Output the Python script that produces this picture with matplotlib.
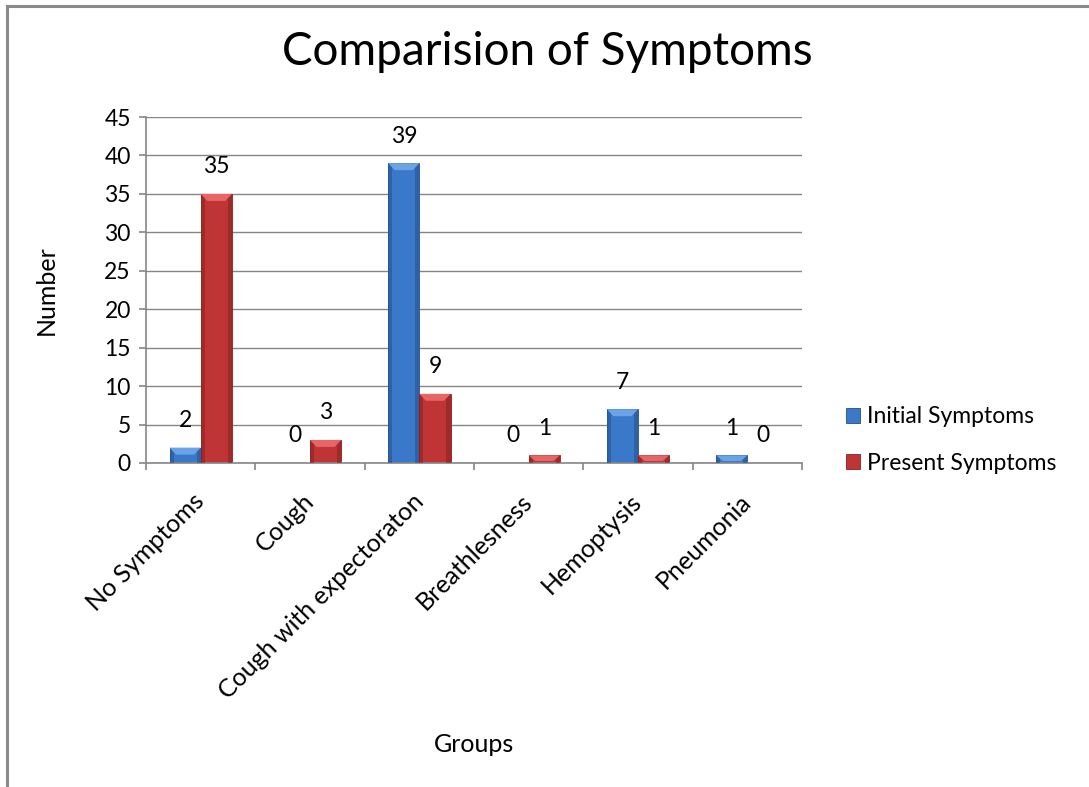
import matplotlib
matplotlib.use("Agg")
import matplotlib.pyplot as plt
from matplotlib.patches import Polygon, Rectangle
from matplotlib.lines import Line2D
from matplotlib.transforms import ScaledTranslation
import numpy as np

categories = ["No Symptoms", "Cough", "Cough with expectoraton", "Breathlesness",
              "Hemoptysis", "Pneumonia"]
initial = [2, 0, 39, 0, 7, 1]
present = [35, 3, 9, 1, 1, 0]
series_names = ["Initial Symptoms", "Present Symptoms"]
y_ticks = [0, 5, 10, 15, 20, 25, 30, 35, 40, 45]

plt.rcParams['font.family'] = ['Lato', 'DejaVu Sans']

BLUE = dict(face="#3a78c9", dark="#25508a", light="#6aa3e6")
RED = dict(face="#bf3434", dark="#8a2020", light="#e86565")

fig = plt.figure(figsize=(10.89, 7.87), dpi=100)
ax = fig.add_axes([0.1341, 0.4117, 0.6024, 0.4396])

x = np.arange(len(categories))
w = 0.285
ymax = 45
px_per_unit = (0.4396 * 787) / ymax
FS = 16.5


def bevel(ax, bars, col):
    for b in bars:
        x0, y0 = b.get_x(), b.get_y()
        bw, bh = b.get_width(), b.get_height()
        if bh <= 0:
            continue
        x1, top = x0 + bw, y0 + bh
        side = bw * 0.13
        ax.add_patch(Rectangle((x0, y0), side, bh, facecolor=col["dark"],
                               edgecolor="none", alpha=0.55, zorder=3))
        ax.add_patch(Rectangle((x1 - side, y0), side, bh, facecolor=col["dark"],
                               edgecolor="none", alpha=0.55, zorder=3))
        h = min(7.0 / px_per_unit, bh * 0.75)
        d = min(side * 1.6, bw * 0.3)
        ax.add_patch(Polygon([(x0, top), (x1, top), (x1 - d, top - h), (x0 + d, top - h)],
                             closed=True, facecolor=col["light"], edgecolor="none",
                             zorder=4))


b1 = ax.bar(x - w / 2, initial, w, color=BLUE["face"], edgecolor=BLUE["dark"],
            linewidth=0.6, zorder=2, label=series_names[0])
b2 = ax.bar(x + w / 2, present, w, color=RED["face"], edgecolor=RED["dark"],
            linewidth=0.6, zorder=2, label=series_names[1])
bevel(ax, b1, BLUE)
bevel(ax, b2, RED)

for bars, vals in ((b1, initial), (b2, present)):
    for b, v in zip(bars, vals):
        ax.annotate(str(v), (b.get_x() + b.get_width() / 2, v),
                    xytext=(0, 19.5), textcoords="offset points",
                    ha="center", va="center", fontsize=FS, color="black")

ax.set_xlim(-0.5, len(categories) - 0.5)
ax.set_ylim(0, ymax)
ax.set_yticks(y_ticks)
ax.yaxis.grid(True, color="#868686", linewidth=1.0)
ax.set_axisbelow(True)
for s in ("top", "right"):
    ax.spines[s].set_visible(False)
for s in ("left", "bottom"):
    ax.spines[s].set_color("#868686")
    ax.spines[s].set_linewidth(1.2)

ax.set_xticks(x)
ax.set_xticklabels(categories, rotation=45, ha="right", va="top",
                   rotation_mode="anchor", fontsize=18)
ax.tick_params(axis="x", which="major", length=0, pad=9)
shift = ScaledTranslation(-0.08, -0.14, fig.dpi_scale_trans)
for lbl in ax.get_xticklabels():
    lbl.set_transform(lbl.get_transform() + shift)
ax.set_xticks(np.arange(-0.5, len(categories), 1.0), minor=True)
ax.tick_params(axis="x", which="minor", length=5, width=1.2, color="#868686",
               direction="out")
ax.tick_params(axis="y", length=5, width=1.2, color="#868686", labelsize=FS, pad=6)

ax.set_xlabel("Groups", fontsize=18)
ax.xaxis.set_label_coords(0.5, -0.78)
ax.set_ylabel("Number", fontsize=18)
ax.yaxis.set_label_coords(-0.135, 0.5)

fig.text(0.503, 0.934, "Comparision of Symptoms", ha="center", va="center",
         fontsize=33)

leg = ax.legend(loc="center left", bbox_to_anchor=(0.758, 0.441),
                bbox_transform=fig.transFigure, frameon=False, fontsize=FS,
                handlelength=0.6, handleheight=0.6, handletextpad=0.3,
                labelspacing=1.1)

fig.add_artist(Line2D([7 / 1089, 7 / 1089], [0, 1 - 6 / 787], transform=fig.transFigure,
                      color="#8a8a8a", linewidth=2.2))
fig.add_artist(Line2D([7 / 1089, 1], [1 - 6 / 787, 1 - 6 / 787], transform=fig.transFigure,
                      color="#8a8a8a", linewidth=2.2))

fig.savefig("out.png", dpi=100)
